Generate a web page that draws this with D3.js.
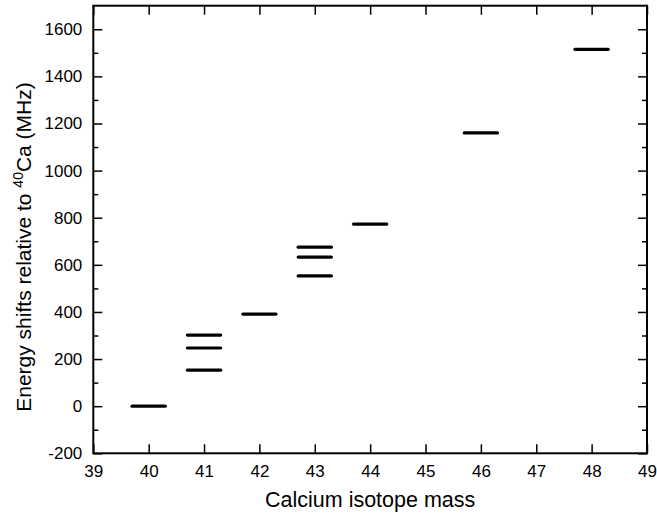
<!DOCTYPE html>
<html>
<head>
<meta charset="utf-8">
<script src="https://cdn.jsdelivr.net/npm/d3@7/dist/d3.min.js"></script>
<style>
  html, body { margin: 0; padding: 0; background: #fff; }
  svg text { font-family: "Liberation Sans", Arial, sans-serif; fill: #000; }
</style>
</head>
<body>
<svg id="chart" width="657" height="513"></svg>
<script>
// Data: isotope masses and energy shifts (MHz) relative to 40Ca
const masses = [40, 41, 41, 41, 42, 43, 43, 43, 44, 46, 48];
const shifts = [0, 302, 247, 153, 391, 675, 633, 553, 773, 1160, 1515];
const xTicks = [39, 40, 41, 42, 43, 44, 45, 46, 47, 48, 49];
const yTicks = [-200, 0, 200, 400, 600, 800, 1000, 1200, 1400, 1600];
const yMinorTicks = [-100, 100, 300, 500, 700, 900, 1100, 1300, 1500];

const svg = d3.select("#chart");
const L = 93.3, R = 647, T = 5.7, B = 453.3;

const x = d3.scaleLinear().domain([39, 49]).range([L, R]);
const y = d3.scaleLinear().domain([-200, 1700]).range([B, T]);

const fmt = d => String(d);

// Bottom axis
const gB = svg.append("g").attr("transform", `translate(0,${B})`)
  .call(d3.axisBottom(x).tickValues(xTicks).tickFormat(fmt).tickSizeInner(-9).tickSizeOuter(0).tickPadding(12));
// Top axis (ticks only)
const gT = svg.append("g").attr("transform", `translate(0,${T})`)
  .call(d3.axisTop(x).tickValues(xTicks).tickFormat("").tickSizeInner(-9).tickSizeOuter(0));
// Left axis
const gL = svg.append("g").attr("transform", `translate(${L},0)`)
  .call(d3.axisLeft(y).tickValues(yTicks).tickFormat(fmt).tickSizeInner(-9).tickSizeOuter(0).tickPadding(11));
const gLm = svg.append("g").attr("transform", `translate(${L},0)`)
  .call(d3.axisLeft(y).tickValues(yMinorTicks).tickFormat("").tickSizeInner(-5).tickSizeOuter(0));
// Right axis
const gR = svg.append("g").attr("transform", `translate(${R},0)`)
  .call(d3.axisRight(y).tickValues(yTicks).tickFormat("").tickSizeInner(-9).tickSizeOuter(0));
const gRm = svg.append("g").attr("transform", `translate(${R},0)`)
  .call(d3.axisRight(y).tickValues(yMinorTicks).tickFormat("").tickSizeInner(-5).tickSizeOuter(0));

[gB, gT, gL, gLm, gR, gRm].forEach(g => {
  g.select(".domain").remove();
  g.selectAll(".tick line").attr("stroke", "#000").attr("stroke-width", 1.5);
  g.selectAll("text").style("font-family", "'Liberation Sans', Arial, sans-serif")
    .style("font-size", "17px").attr("fill", "#000");
});

// Frame
svg.append("rect").attr("x", L).attr("y", T).attr("width", R - L).attr("height", B - T)
  .attr("fill", "none").attr("stroke", "#000").attr("stroke-width", 2);

// Level segments
const half = 0.3;
svg.append("g").selectAll("line").data(masses.map((m, i) => ({m, v: shifts[i]})))
  .join("line")
  .attr("x1", d => x(d.m - half)).attr("x2", d => x(d.m + half))
  .attr("y1", d => y(d.v)).attr("y2", d => y(d.v))
  .attr("stroke", "#000").attr("stroke-width", 3.2).attr("stroke-linecap", "round");

// Axis titles
svg.append("text").attr("x", (L + R) / 2).attr("y", 507)
  .attr("text-anchor", "middle").style("font-size", "21.5px")
  .text("Calcium isotope mass");

const yt = svg.append("text")
  .attr("transform", `translate(31,247) rotate(-90)`)
  .attr("text-anchor", "middle").style("font-size", "21px");
yt.append("tspan").text("Energy shifts relative to ");
yt.append("tspan").attr("dy", -8).style("font-size", "14px").text("40");
yt.append("tspan").attr("dy", 8).text("Ca (MHz)");
</script>
</body>
</html>
